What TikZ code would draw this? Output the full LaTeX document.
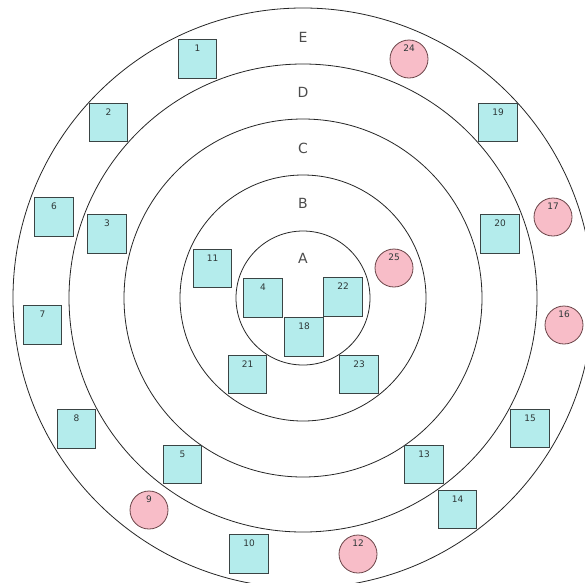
\documentclass[tikz,border=0pt]{standalone}
\usepackage{fontspec}
\setmainfont{DejaVu Sans}
\definecolor{sqfill}{HTML}{B4ECEC}
\definecolor{sqedge}{HTML}{3A4444}
\definecolor{pkfill}{HTML}{F8BDC8}
\definecolor{pkedge}{HTML}{6A4448}
\definecolor{txt}{HTML}{2E3838}
\begin{document}
\begin{tikzpicture}[x=1pt,y=-1pt,
  ring/.style={draw=black!85, line width=0.8pt},
  ringlabel/.style={font=\fontsize{14}{14}\selectfont, text=black!70},
  numlab/.style={anchor=north, inner sep=0pt, yshift=-5.5pt, font=\fontsize{9}{9}\selectfont, text=txt},
  sq/.style={draw=sqedge, fill=sqfill, line width=0.8pt, minimum size=38.5pt, inner sep=0pt, label={[numlab]north:#1}},
  pk/.style={draw=pkedge, fill=pkfill, circle, line width=0.8pt, minimum size=38pt, inner sep=0pt, label={[numlab]north:#1}}]
\useasboundingbox (0,0) rectangle (585,582);
\fill[white] (0,0) rectangle (585,582);
\clip (0,0) rectangle (585,582);
\coordinate (O) at (303,298);
\draw[ring] (O) circle [radius=67pt];
\draw[ring] (O) circle [radius=123pt];
\draw[ring] (O) circle [radius=179pt];
\draw[ring] (O) circle [radius=234pt];
\draw[ring] (O) circle [radius=290pt];
\node[ringlabel] (lE) at (303,37) {E};
\node[ringlabel] (lD) at (303,92) {D};
\node[ringlabel] (lC) at (303,148) {C};
\node[ringlabel] (lB) at (303,203) {B};
\node[ringlabel] (lA) at (303,258) {A};
\node[sq=1] (n1) at (197.5,59) {};
\node[sq=2] (n2) at (108.5,122.5) {};
\node[sq=3] (n3) at (107,234) {};
\node[sq=4] (n4) at (263,298) {};
\node[sq=5] (n5) at (182.5,464.5) {};
\node[sq=6] (n6) at (54,217) {};
\node[sq=7] (n7) at (42.5,325) {};
\node[sq=8] (n8) at (76.5,429) {};
\node[sq=10] (n10) at (249,554) {};
\node[sq=11] (n11) at (212.5,268.5) {};
\node[sq=13] (n13) at (424,464.5) {};
\node[sq=14] (n14) at (457.5,509.5) {};
\node[sq=15] (n15) at (530,428.5) {};
\node[sq=18] (n18) at (304,337) {};
\node[sq=19] (n19) at (498,122.5) {};
\node[sq=20] (n20) at (500,234) {};
\node[sq=21] (n21) at (247.5,374.5) {};
\node[sq=22] (n22) at (343,297) {};
\node[sq=23] (n23) at (359,374.5) {};
\node[pk=9] (n9) at (149,510) {};
\node[pk=12] (n12) at (358,554) {};
\node[pk=16] (n16) at (564,325) {};
\node[pk=17] (n17) at (553,217) {};
\node[pk=24] (n24) at (409,59) {};
\node[pk=25] (n25) at (394,268) {};
\end{tikzpicture}
\end{document}
